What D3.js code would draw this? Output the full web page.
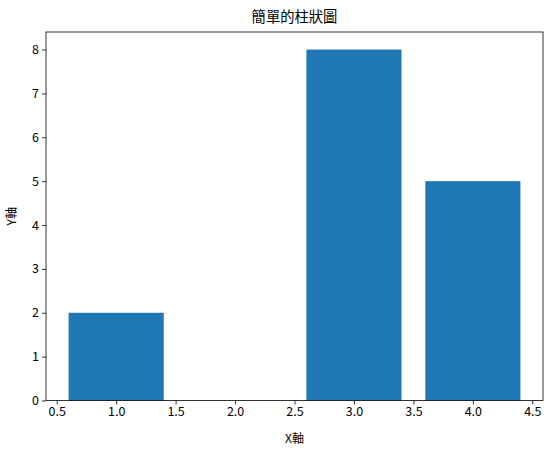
<!DOCTYPE html>
<html><head><meta charset="utf-8">
<script src="https://cdn.jsdelivr.net/npm/d3@7"></script>
<style>body{margin:0;background:#fff;}svg{display:block;font-family:"Noto Sans CJK TC","DejaVu Sans",sans-serif;}</style>
</head><body>
<script>
const categories = [1, 3, 4];
const values = [2, 8, 5];
const xTicks = [0.5, 1.0, 1.5, 2.0, 2.5, 3.0, 3.5, 4.0, 4.5];
const yTicks = [0, 1, 2, 3, 4, 5, 6, 7, 8];
const title = "簡單的柱狀圖";
const xLabel = "X軸";
const yLabel = "Y軸";

const W = 549, H = 455;
const m = {left: 46, right: 6, top: 32, bottom: 54.5};
const svg = d3.select("body").append("svg").attr("width", W).attr("height", H);
const x = d3.scaleLinear().domain([0.41, 4.59]).range([m.left, W - m.right]);
const y = d3.scaleLinear().domain([0, 8.4]).range([H - m.bottom, m.top]);

svg.selectAll("rect.bar").data(categories).enter().append("rect")
  .attr("class", "bar")
  .attr("x", d => x(d - 0.4))
  .attr("width", d => x(d + 0.4) - x(d - 0.4))
  .attr("y", (d, i) => y(values[i]))
  .attr("height", (d, i) => y(0) - y(values[i]))
  .attr("fill", "#1f77b4");

const xa = svg.append("g").attr("transform", `translate(0,${H - m.bottom})`)
  .call(d3.axisBottom(x).tickValues(xTicks).tickFormat(d3.format(".1f")).tickSize(4).tickPadding(3));
const ya = svg.append("g").attr("transform", `translate(${m.left},0)`)
  .call(d3.axisLeft(y).tickValues(yTicks).tickFormat(d3.format("d")).tickSize(4).tickPadding(3));
[xa, ya].forEach(a => {
  a.select(".domain").remove();
  a.selectAll("text").attr("font-size", 12.5).attr("fill", "#000").attr("font-family", "'Noto Sans CJK TC', sans-serif");
  a.selectAll("line").attr("stroke", "#000").attr("stroke-width", 0.8);
});

svg.append("rect").attr("x", m.left).attr("y", m.top)
  .attr("width", W - m.left - m.right).attr("height", H - m.top - m.bottom)
  .attr("fill", "none").attr("stroke", "#000").attr("stroke-width", 0.8);

svg.append("text").attr("x", (m.left + W - m.right) / 2).attr("y", 22)
  .attr("text-anchor", "middle").attr("font-size", 14.3).text(title);
svg.append("text").attr("x", (m.left + W - m.right) / 2).attr("y", 443)
  .attr("text-anchor", "middle").attr("font-size", 12).text(xLabel);
svg.append("text").attr("transform", `translate(16,${(m.top + H - m.bottom) / 2}) rotate(-90)`)
  .attr("text-anchor", "middle").attr("font-size", 12).text(yLabel);
</script>
</body></html>
